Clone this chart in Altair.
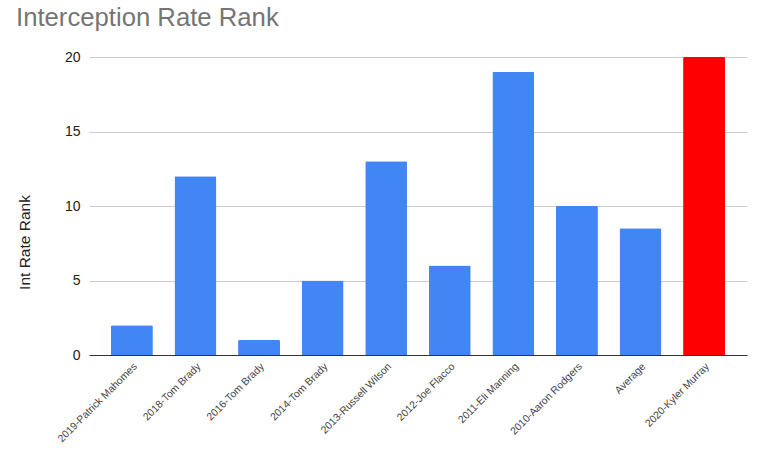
import altair as alt
import pandas as pd

players = ["2019-Patrick Mahomes", "2018-Tom Brady", "2016-Tom Brady", "2014-Tom Brady",
           "2013-Russell Wilson", "2012-Joe Flacco", "2011-Eli Manning", "2010-Aaron Rodgers",
           "Average", "2020-Kyler Murray"]
ranks = [2, 12, 1, 5, 13, 6, 19, 10, 8.5, 20]
highlight = [False] * 9 + [True]

df = pd.DataFrame({"player": players, "rank": ranks, "hl": highlight})

chart = alt.Chart(df).mark_bar(cornerRadiusTopLeft=1.5, cornerRadiusTopRight=1.5).encode(
    x=alt.X("player:N", sort=players, title=None,
            scale=alt.Scale(paddingInner=0.34, paddingOuter=0.345),
            axis=alt.Axis(labelAngle=-45, labelFontSize=10.4, labelColor="#444444",
                          labelFont="Arial, Liberation Sans", domainColor="#333333",
                          ticks=False, labelPadding=6)),
    y=alt.Y("rank:Q", title="Int Rate Rank",
            scale=alt.Scale(domain=[0, 20], nice=False),
            axis=alt.Axis(values=[0, 5, 10, 15, 20], labelFontSize=14, labelColor="#222222",
                          labelFont="Arial, Liberation Sans", ticks=False, domain=False,
                          gridColor="#cccccc", labelPadding=9, titleFontSize=15.5,
                          titleFontWeight="normal", titleColor="#222222",
                          titleFont="Arial, Liberation Sans",
                          titleAngle=-90, titleX=-60, titleY=185,
                          titleAlign="center", titleBaseline="alphabetic")),
    color=alt.Color("hl:N", scale=alt.Scale(domain=[False, True], range=["#4285F4", "#FF0000"]),
                    legend=None),
).properties(
    width=658, height=298,
    autosize=alt.AutoSizeParams(type="none"),
    padding={"left": 89, "top": 57, "right": 10, "bottom": 97},
    title=alt.TitleParams("Interception Rate Rank", anchor="start", frame="group",
                          dx=-73, offset=18, fontSize=25.7, font="Arial, Liberation Sans",
                          fontWeight="normal", color="#757575"),
).configure_view(stroke=None)

chart.save("out.html", embed_options={"renderer": "svg", "actions": False})
